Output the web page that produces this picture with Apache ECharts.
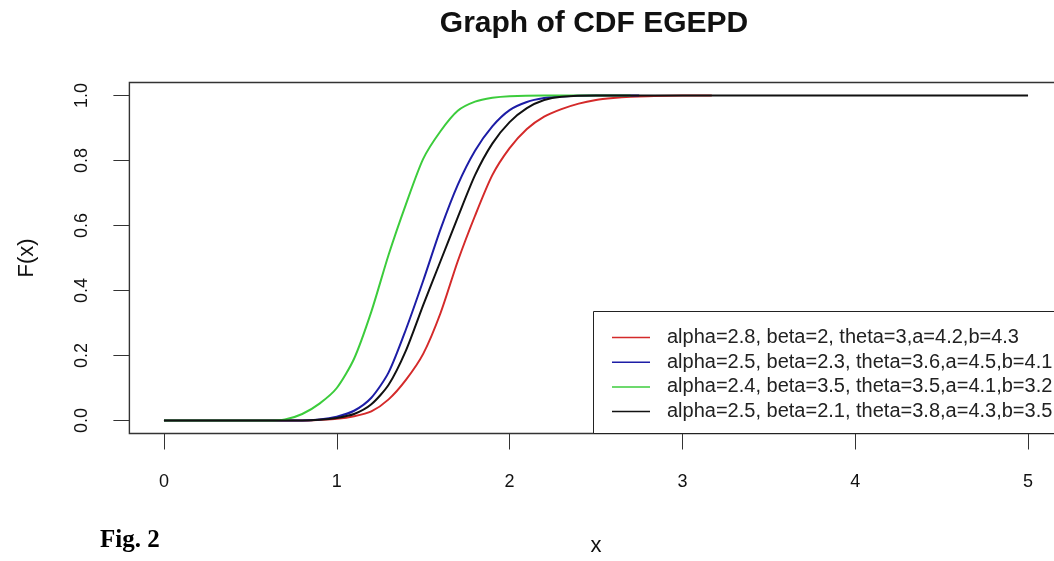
<!DOCTYPE html>
<html>
<head>
<meta charset="utf-8">
<script src="https://cdn.jsdelivr.net/npm/echarts@6/dist/echarts.min.js"></script>
<style>
html,body{margin:0;padding:0;background:#fff;overflow:hidden;width:1054px;height:561px;}
#c{width:1063px;height:561px;}
</style>
</head>
<body>
<div id="c"></div>
<script>
// ---- data ----
const seriesNames = [
  'alpha=2.8, beta=2, theta=3,a=4.2,b=4.3',
  'alpha=2.5, beta=2.3, theta=3.6,a=4.5,b=4.1',
  'alpha=2.4, beta=3.5, theta=3.5,a=4.1,b=3.2',
  'alpha=2.5, beta=2.1, theta=3.8,a=4.3,b=3.5'
];
const redX   = [0, 0.8, 0.9, 1.0, 1.1, 1.2, 1.3, 1.4, 1.5, 1.6, 1.7, 1.8, 1.9, 2.0, 2.1, 2.2, 2.3, 2.4, 2.5, 2.6, 2.7, 2.8, 3.0, 3.17];
const redF   = [0, 0, 0.002, 0.005, 0.013, 0.028, 0.065, 0.125, 0.205, 0.33, 0.49, 0.63, 0.755, 0.838, 0.897, 0.935, 0.958, 0.975, 0.986, 0.992, 0.996, 0.998, 1.0, 1.0];
const blueX  = [0, 0.8, 0.9, 1.0, 1.1, 1.2, 1.3, 1.4, 1.5, 1.6, 1.7, 1.8, 1.9, 2.0, 2.1, 2.2, 2.3, 2.5, 2.75];
const blueF  = [0, 0, 0.003, 0.012, 0.03, 0.07, 0.148, 0.28, 0.43, 0.588, 0.725, 0.83, 0.905, 0.955, 0.98, 0.992, 0.997, 1.0, 1.0];
const greenX = [0, 0.6, 0.7, 0.8, 0.9, 1.0, 1.1, 1.2, 1.3, 1.4, 1.5, 1.6, 1.7, 1.8, 1.9, 2.0, 2.2, 2.7];
const greenF = [0, 0, 0.003, 0.02, 0.052, 0.1, 0.19, 0.335, 0.51, 0.665, 0.805, 0.89, 0.953, 0.981, 0.993, 0.998, 1.0, 1.0];
const blackX = [0, 0.8, 0.9, 1.0, 1.1, 1.2, 1.3, 1.4, 1.5, 1.6, 1.7, 1.8, 1.9, 2.0, 2.1, 2.2, 2.3, 2.5, 5];
const blackF = [0, 0, 0.002, 0.008, 0.02, 0.05, 0.11, 0.215, 0.355, 0.49, 0.625, 0.755, 0.852, 0.918, 0.961, 0.986, 0.996, 1.0, 1.0];
const xTicks = [0, 1, 2, 3, 4, 5];
const yTicks = [0, 0.2, 0.4, 0.6, 0.8, 1.0];
const colors = ['#d42a2a', '#1d1da6', '#3ccc3c', '#111111'];

const zip = (xs, ys) => xs.map((x, i) => [x, ys[i]]);
const allData = [zip(redX, redF), zip(blueX, blueF), zip(greenX, greenF), zip(blackX, blackF)];

const chart = echarts.init(document.getElementById('c'), null, {renderer: 'canvas'});
const FONT = '"Liberation Sans", Arial, sans-serif';

// R-style box: axis range extends 4% beyond the data range on each side
const xPad = (xTicks[xTicks.length - 1] - xTicks[0]) * 0.04;
const yPad = (yTicks[yTicks.length - 1] - yTicks[0]) * 0.04;

chart.setOption({
  backgroundColor: '#fff',
  animation: false,
  textStyle: {fontFamily: FONT},
  grid: {left: 129.4, right: 0.4, top: 82.5, bottom: 127.5, containLabel: false,
    show: true, borderColor: '#333', borderWidth: 1.4, backgroundColor: 'transparent'},
  xAxis: {
    type: 'value', min: xTicks[0] - xPad, max: xTicks[xTicks.length - 1] + xPad,
    axisLine: {show: false, onZero: false},
    axisTick: {show: true, length: 16, customValues: xTicks, lineStyle: {color: '#333', width: 1}},
    splitLine: {show: false},
    axisLabel: {fontSize: 18, color: '#111', margin: 40, fontFamily: FONT, customValues: xTicks,
      formatter: v => String(Math.round(v))}
  },
  yAxis: {
    type: 'value', min: yTicks[0] - yPad, max: yTicks[yTicks.length - 1] + yPad,
    axisLine: {show: false, onZero: false},
    axisTick: {show: true, length: 16, customValues: yTicks, lineStyle: {color: '#333', width: 1}},
    splitLine: {show: false},
    axisLabel: {fontSize: 18, color: '#111', margin: 38, rotate: 90, fontFamily: FONT, customValues: yTicks,
      formatter: v => Number(v).toFixed(1)}
  },
  legend: {
    orient: 'vertical', left: 612, top: 327.5, padding: 0,
    itemWidth: 38, itemHeight: 1.5, itemGap: 4.7, icon: 'rect',
    data: seriesNames,
    textStyle: {fontSize: 20, color: '#222', fontFamily: FONT, padding: [0, 0, 0, 12]},
    selectedMode: false, z: 5
  },
  graphic: [
    {type: 'rect', z: 3, silent: true,
      shape: {x: 593.5, y: 311.5, width: 500, height: 122},
      style: {fill: '#fff', stroke: '#222', lineWidth: 1}},
    {type: 'text', z: 5, x: 594, y: 23.5, silent: true,
      style: {text: 'Graph of CDF EGEPD', fontSize: 30, fontWeight: 'bold', fontFamily: FONT,
        fill: '#111', align: 'center', verticalAlign: 'middle'}},
    {type: 'text', z: 5, x: 596, y: 546, silent: true,
      style: {text: 'x', fontSize: 22, fontFamily: FONT, fill: '#111', align: 'center', verticalAlign: 'middle'}},
    {type: 'text', z: 5, x: 27, y: 258, rotation: Math.PI / 2, silent: true,
      style: {text: 'F(x)', fontSize: 22, fontFamily: FONT, fill: '#111', align: 'center', verticalAlign: 'middle'}},
    {type: 'text', z: 5, x: 100, y: 541, silent: true,
      style: {text: 'Fig. 2', fontSize: 25, fontWeight: 'bold', fontFamily: '"Liberation Serif", "Times New Roman", serif',
        fill: '#000', align: 'left', verticalAlign: 'middle'}}
  ],
  series: seriesNames.map((name, i) => ({
    name: name, type: 'line', data: allData[i],
    symbol: 'none', smooth: 0.25,
    lineStyle: {color: colors[i], width: 2},
    itemStyle: {color: colors[i]},
    z: 2 + i * 0.1, silent: true
  }))
});
</script>
</body>
</html>
